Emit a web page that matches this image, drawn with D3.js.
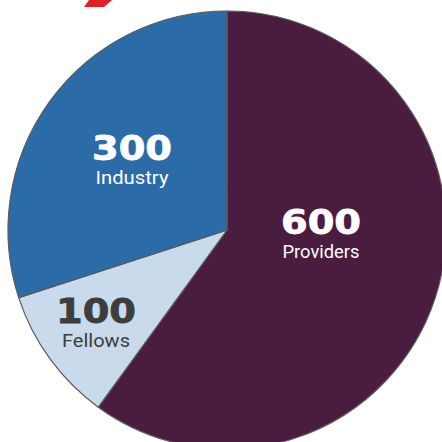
<!DOCTYPE html>
<html><head><meta charset="utf-8">
<script src="https://cdn.jsdelivr.net/npm/d3@7"></script>
<style>html,body{margin:0;padding:0;background:#fff;overflow:hidden}</style>
</head><body>
<svg id="c" width="442" height="442"></svg>
<script>
const categories = ["Providers", "Fellows", "Industry"];
const values = [600, 100, 300];
const colors = ["#4a1c40", "#c8daeb", "#2b6ba8"];
const numColors = ["#ffffff", "#3d3d3d", "#ffffff"];
const labelColors = ["#ffffff", "#3d3d3d", "#ffffff"];
// label layout (positions relative to pie center)
const labelPos = [[94, 4], [-131, 93], [-95, -70]];
const labelWidths = [77, 68, 73];

const svg = d3.select("#c");
const cx = 227, cy = 230, r = 219;
const g = svg.append("g").attr("transform", `translate(${cx},${cy})`);

// red accent mark
svg.append("polygon").attr("points", "89,0 112,0 104,7 84,7").attr("fill", "#e31e24");

const data = categories.map((c, i) => ({cat: c, value: values[i], i}));
const pie = d3.pie().sort(null).value(d => d.value).startAngle(0).endAngle(2 * Math.PI);
const arc = d3.arc().innerRadius(0).outerRadius(r);

g.selectAll("path").data(pie(data)).join("path")
  .attr("d", arc)
  .attr("fill", d => colors[d.data.i])
  .attr("stroke", "#5a5a5a")
  .attr("stroke-width", 1.2);

const lab = g.selectAll("g.lab").data(data).join("g").attr("class", "lab")
  .attr("transform", d => `translate(${labelPos[d.i][0]},${labelPos[d.i][1]})`);
lab.append("text")
  .attr("text-anchor", "middle")
  .attr("y", 0)
  .attr("font-family", "DejaVu Sans")
  .attr("font-weight", "bold")
  .attr("font-size", 34)
  .attr("textLength", 80)
  .attr("lengthAdjust", "spacingAndGlyphs")
  .attr("fill", d => numColors[d.i])
  .attr("stroke", d => numColors[d.i])
  .attr("stroke-width", 0.8)
  .text(d => d3.format("d")(d.value));
lab.append("text")
  .attr("text-anchor", "middle")
  .attr("y", 24)
  .attr("font-family", "Roboto")
  .attr("font-size", 18.5)
  .attr("textLength", d => labelWidths[d.i])
  .attr("lengthAdjust", "spacingAndGlyphs")
  .attr("fill", d => labelColors[d.i])
  .text(d => d.cat);
</script>
</body></html>
